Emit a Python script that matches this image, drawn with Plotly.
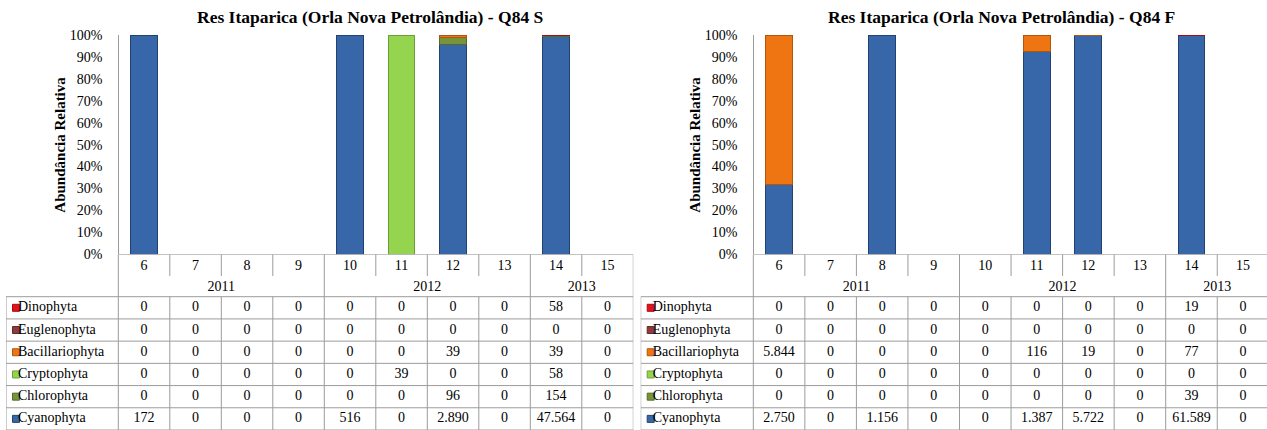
import plotly.graph_objects as go

W, H = 1267, 430

# ---------------- data ----------------
months = [6, 7, 8, 9, 10, 11, 12, 13, 14, 15]
years = ["2011", "2012", "2013"]
year_spans = [4, 4, 2]
groups = ["Dinophyta", "Euglenophyta", "Bacillariophyta", "Cryptophyta", "Chlorophyta", "Cyanophyta"]

S_dinophyta = [0, 0, 0, 0, 0, 0, 0, 0, 58, 0]
S_euglenophyta = [0, 0, 0, 0, 0, 0, 0, 0, 0, 0]
S_bacillariophyta = [0, 0, 0, 0, 0, 0, 39, 0, 39, 0]
S_cryptophyta = [0, 0, 0, 0, 0, 39, 0, 0, 58, 0]
S_chlorophyta = [0, 0, 0, 0, 0, 0, 96, 0, 154, 0]
S_cyanophyta = [172, 0, 0, 0, 516, 0, 2890, 0, 47564, 0]

F_dinophyta = [0, 0, 0, 0, 0, 0, 0, 0, 19, 0]
F_euglenophyta = [0, 0, 0, 0, 0, 0, 0, 0, 0, 0]
F_bacillariophyta = [5844, 0, 0, 0, 0, 116, 19, 0, 77, 0]
F_cryptophyta = [0, 0, 0, 0, 0, 0, 0, 0, 0, 0]
F_chlorophyta = [0, 0, 0, 0, 0, 0, 0, 0, 39, 0]
F_cyanophyta = [2750, 0, 1156, 0, 0, 1387, 5722, 0, 61589, 0]

title_S = "Res Itaparica (Orla Nova Petrolândia) - Q84 S"
title_F = "Res Itaparica (Orla Nova Petrolândia) - Q84 F"
ytitle = "Abundância Relativa"

# ---------------- style ----------------
fill = {"Dinophyta": "#E3131B", "Euglenophyta": "#8E3B3A", "Bacillariophyta": "#EE7512",
        "Cryptophyta": "#95D44E", "Chlorophyta": "#77933C", "Cyanophyta": "#3767A8"}
edge = {"Dinophyta": "#A00E14", "Euglenophyta": "#632928", "Bacillariophyta": "#B0570D",
        "Cryptophyta": "#6E9E38", "Chlorophyta": "#566B2B", "Cyanophyta": "#22436F"}
FONT = "Liberation Serif"
GRID = "#9C9C9C"

panels = [
    dict(title=title_S, data=[S_dinophyta, S_euglenophyta, S_bacillariophyta, S_cryptophyta, S_chlorophyta, S_cyanophyta],
         label_left=6.0, tab_left=118.3, col_w=51.5, title_cx=370, ytitle_cx=60,
         xa="x", ya="y", ta="y3", xkey="xaxis", ykey="yaxis", tkey="yaxis3"),
    dict(title=title_F, data=[F_dinophyta, F_euglenophyta, F_bacillariophyta, F_cryptophyta, F_chlorophyta, F_cyanophyta],
         label_left=640.7, tab_left=753.3, col_w=51.55, title_cx=1001, ytitle_cx=695,
         xa="x2", ya="y2", ta="y4", xkey="xaxis2", ykey="yaxis2", tkey="yaxis4"),
]

TOP100 = 35.0      # px of 100%
ZERO = 254.3       # px of 0% / table top
MONTH_BOT = 276.0  # bottom of month separators in header
HDR_BOT = 296.7    # bottom of header rows
BOTTOM = 430.0
ROW_H = (BOTTOM - HDR_BOT) / len(groups)

def fmt(v):
    return f"{v:,}".replace(",", ".")

fig = go.Figure()
shapes = []
annotations = []
layout = {}

n = len(months)
for p in panels:
    cw = p["col_w"]
    u = lambda px, p=p: (px - p["tab_left"]) / p["col_w"] - 0.5   # px -> x units
    ty = lambda py: (BOTTOM - py) / ROW_H - 0.5                     # px -> table row units
    right_px = p["tab_left"] + n * cw
    right_vis = min(right_px, W)

    data = p["data"]
    totals = [sum(col) for col in zip(*data)]

    # stacked bars: bottom = Cyanophyta ... top = Dinophyta
    for gi in reversed(range(len(groups))):
        g = groups[gi]
        vals = data[gi]
        pct = [(v / t) if (t > 0 and v > 0) else None for v, t in zip(vals, totals)]
        fig.add_trace(go.Bar(
            x=list(range(n)), y=pct, name=g, xaxis=p["xa"], yaxis=p["ya"],
            width=0.52, marker=dict(color=fill[g], line=dict(color=edge[g], width=1)),
            showlegend=False, hoverinfo="skip"))

    # table values
    for gi, g in enumerate(groups):
        yrow = len(groups) - 1 - gi
        fig.add_trace(go.Scatter(
            x=list(range(n)), y=[yrow] * n, mode="text", text=[fmt(v) for v in data[gi]],
            textposition="middle center", textfont=dict(family=FONT, size=14, color="black"),
            xaxis=p["xa"], yaxis=p["ta"], showlegend=False, hoverinfo="skip", cliponaxis=False))

    # row labels with keys
    rows_y = [len(groups) - 1 - gi for gi in range(len(groups))]
    fig.add_trace(go.Scatter(
        x=[u(p["label_left"] + 10)] * len(groups), y=rows_y, mode="markers",
        marker=dict(symbol="square", size=7, color=[fill[g] for g in groups],
                    line=dict(color=[edge[g] for g in groups], width=1)),
        xaxis=p["xa"], yaxis=p["ta"], showlegend=False, hoverinfo="skip", cliponaxis=False))
    fig.add_trace(go.Scatter(
        x=[u(p["label_left"] + 12)] * len(groups), y=rows_y, mode="text", text=groups,
        textposition="middle right", textfont=dict(family=FONT, size=14, color="black"),
        xaxis=p["xa"], yaxis=p["ta"], showlegend=False, hoverinfo="skip", cliponaxis=False))

    # month labels
    fig.add_trace(go.Scatter(
        x=list(range(n)), y=[ty((ZERO + MONTH_BOT) / 2 + 1.0)] * n, mode="text",
        text=[str(m) for m in months], textposition="middle center",
        textfont=dict(family=FONT, size=14, color="black"),
        xaxis=p["xa"], yaxis=p["ta"], showlegend=False, hoverinfo="skip", cliponaxis=False))
    # year labels
    yx, start = [], 0
    for s in year_spans:
        yx.append(start + (s - 1) / 2)
        start += s
    fig.add_trace(go.Scatter(
        x=yx, y=[ty((MONTH_BOT + HDR_BOT) / 2 + 1.0)] * len(years), mode="text", text=years,
        textposition="middle center", textfont=dict(family=FONT, size=14, color="black"),
        xaxis=p["xa"], yaxis=p["ta"], showlegend=False, hoverinfo="skip", cliponaxis=False))

    # grid lines of the table
    def line(x0, y0, x1, y1):
        shapes.append(dict(type="line", xref=p["xa"], yref=p["ta"], x0=x0, y0=y0, x1=x1, y1=y1,
                           line=dict(color=GRID, width=1)))
    xr = n - 0.5
    xl = u(p["tab_left"])
    xlab = u(p["label_left"])
    line(xl, ty(ZERO), xr, ty(ZERO))
    line(xlab, ty(HDR_BOT), xr, ty(HDR_BOT))
    for r in range(1, len(groups) + 1):
        yy = ty(HDR_BOT + r * ROW_H)
        line(xlab, yy, xr, yy)
    line(xlab, ty(HDR_BOT), xlab, ty(BOTTOM))
    bounds = set()
    acc = 0
    for s in year_spans:
        bounds.add(acc)
        acc += s
    bounds.add(acc)
    for k in range(n + 1):
        xx = k - 0.5
        if k in bounds:
            line(xx, ty(ZERO), xx, ty(BOTTOM))
        else:
            line(xx, ty(ZERO), xx, ty(MONTH_BOT))
            line(xx, ty(HDR_BOT), xx, ty(BOTTOM))

    layout[p["xkey"]] = dict(domain=[p["label_left"] / W, right_vis / W],
                             range=[u(p["label_left"]), u(right_vis)], visible=False,
                             fixedrange=True, automargin=False)
    layout[p["ykey"]] = dict(domain=[1 - ZERO / H, 1 - TOP100 / H], range=[0, 1],
                             anchor="free", position=p["tab_left"] / W, tickformat=".0%", dtick=0.1,
                             showline=True, linecolor=GRID, linewidth=1, showgrid=False, zeroline=False,
                             ticks="", ticklabelstandoff=13, automargin=False,
                             tickfont=dict(family=FONT, size=14, color="black"), fixedrange=True)
    layout[p["tkey"]] = dict(domain=[0, 1 - ZERO / H], range=[ty(BOTTOM), ty(ZERO)], visible=False,
                             anchor=p["xa"], fixedrange=True, automargin=False)

    annotations.append(dict(text=f"<b>{p['title']}</b>", xref="paper", yref="paper",
                            x=p["title_cx"] / W, y=1 - 16.5 / H, showarrow=False,
                            xanchor="center", yanchor="middle",
                            font=dict(family=FONT, size=17.5, color="black")))
    annotations.append(dict(text=f"<b>{ytitle}</b>", xref="paper", yref="paper",
                            x=p["ytitle_cx"] / W, y=1 - ((TOP100 + ZERO) / 2) / H, showarrow=False,
                            textangle=-90, xanchor="center", yanchor="middle",
                            font=dict(family=FONT, size=15, color="black")))

fig.update_layout(width=W, height=H, autosize=False,
                  margin=dict(l=0, r=0, t=0, b=0, pad=0, autoexpand=False),
                  paper_bgcolor="white", plot_bgcolor="rgba(0,0,0,0)",
                  barmode="stack", bargap=0, shapes=shapes, annotations=annotations,
                  showlegend=False, **layout)

fig.write_html(
    "out.html",
    config={"displayModeBar": False, "staticPlot": True},
    post_script=("document.documentElement.style.margin='0';document.body.style.margin='0';"
                 "document.body.style.overflow='hidden';"
                 "var d=document.querySelector('.plotly-graph-div');"
                 "d.style.position='fixed';d.style.top='0px';d.style.left='0px';"),
)
